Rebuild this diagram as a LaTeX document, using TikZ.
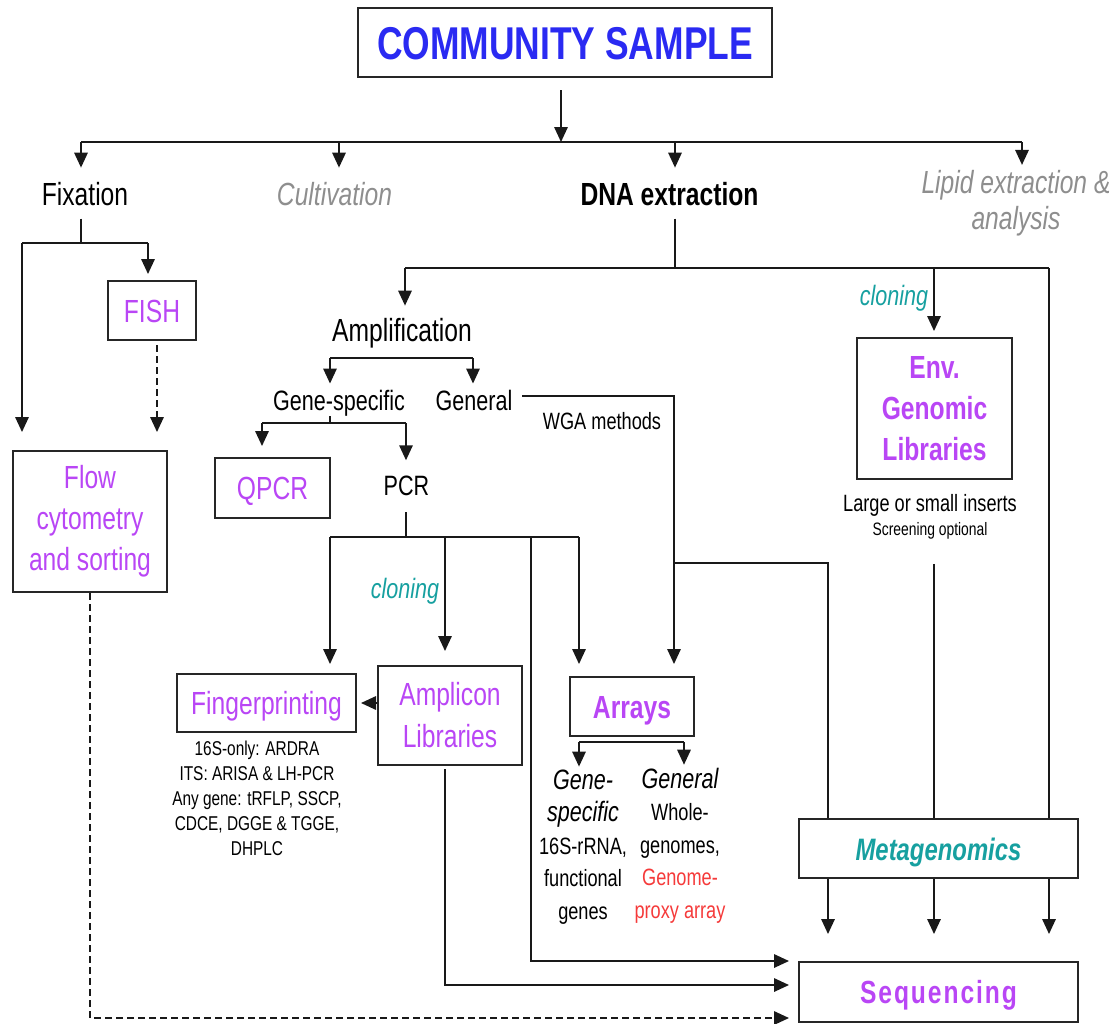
\documentclass[tikz,border=0pt]{standalone}
\usepackage{fontspec}
\setmainfont{Liberation Sans}[FakeStretch=0.77]
\usetikzlibrary{arrows.meta,calc}
\definecolor{cblue}{HTML}{2A2AF2}
\definecolor{cpurp}{HTML}{B946F5}
\definecolor{cteal}{HTML}{17A0A0}
\definecolor{cgray}{HTML}{8E8E8E}
\definecolor{cred}{HTML}{F53A3A}
\newcommand\FBig{\fontsize{32}{41}\selectfont}
\newcommand\FMid{\fontsize{28}{32.5}\selectfont}
\newcommand\FSub{\fontsize{23.6}{32.5}\selectfont}
\newcommand\FNote{\fontsize{20}{25}\selectfont}
\tikzset{
  ln/.style={line width=1.6pt, draw=black!90},
  arr/.style={ln, -{Triangle[length=15pt,width=13.5pt]}},
  dsh/.style={dash pattern=on 7pt off 4pt},
  box/.style={draw=black!85, line width=2pt, inner sep=0pt, align=center},
  sbox/.style={box, text height=23pt, text depth=0pt},
  lab/.style={inner sep=0pt, anchor=base},
  mlab/.style={inner sep=0pt, align=center},
}
\begin{document}
\begin{tikzpicture}[x=1pt,y=-1pt]
\useasboundingbox (0,0) rectangle (1119,1023);

% ---------- nodes ----------
\node[box, minimum width=414pt, minimum height=69pt, text height=33pt, text depth=0pt,
      text=cblue, font=\fontsize{46}{50}\selectfont\bfseries] (cs) at (565,42.5) {COMMUNITY SAMPLE};

\node[lab, font=\FBig] (fix) at (85,205) {Fixation};
\node[lab, font=\FBig\itshape, text=cgray] (cult) at (334.5,205) {Cultivation};
\node[lab, font=\FBig\bfseries] (dna) at (669.5,205) {DNA extraction};
\node[mlab, font=\fontsize{32}{36}\selectfont\itshape, text=cgray] (lipid) at (1016,203) {Lipid extraction \&\\analysis};

\node[sbox, minimum width=88pt, minimum height=59pt, text=cpurp, font=\FBig] (fish) at (152,310.5) {FISH};
\node[box, minimum width=154pt, minimum height=141pt, text=cpurp, font=\FBig] (flow) at (90,521.5) {Flow\\cytometry\\and sorting};

\node[lab, font=\FBig] (amp) at (402,341) {Amplification};
\node[lab, font=\FMid] (gs) at (339,410) {Gene-specific};
\node[lab, font=\FMid] (gen) at (474,410) {General};
\node[lab, font=\FSub] (wga) at (602,429) {WGA methods};
\node[sbox, minimum width=115pt, minimum height=60pt, text=cpurp, font=\FBig] (qpcr) at (272.5,488) {QPCR};
\node[lab, font=\FMid] (pcr) at (406.5,495) {PCR};
\node[lab, font=\FMid\itshape, text=cteal] (clon1) at (405,598) {cloning};

\node[lab, font=\FMid\itshape, text=cteal] (clon2) at (894,305) {cloning};
\node[box, minimum width=155pt, minimum height=141pt, text=cpurp, font=\FBig\bfseries] (env) at (934.5,408.5) {Env.\\Genomic\\Libraries};
\node[lab, font=\FSub] (lsi) at (930,511) {Large or small inserts};
\node[lab, font=\fontsize{18}{20}\selectfont] (scr) at (930,535) {Screening optional};

\node[sbox, minimum width=179pt, minimum height=58pt, text=cpurp, font=\FBig] (fp) at (266.5,703) {Fingerprinting};
\node[box, minimum width=144pt, minimum height=99pt, text=cpurp, font=\fontsize{32}{42}\selectfont] (ampl) at (450,715.5) {Amplicon\\Libraries};
\node[sbox, minimum width=124pt, minimum height=59pt, text=cpurp, font=\FBig\bfseries] (arrays) at (632,706.5) {Arrays};
\node[mlab, font=\FNote] (fpn) at (257,798) {16S-only: ARDRA\\ITS: ARISA \& LH-PCR\\Any gene: tRFLP, SSCP,\\CDCE, DGGE \& TGGE,\\DHPLC};
\node[mlab, font=\FSub] (ags) at (583,847) {{\FMid\itshape Gene-}\\{\FMid\itshape specific}\\16S-rRNA,\\functional\\genes};
\node[mlab, font=\FSub] (agen) at (680,845.5) {{\FMid\itshape General}\\Whole-\\genomes,\\\textcolor{cred}{Genome-}\\\textcolor{cred}{proxy array}};

\node[sbox, minimum width=279pt, minimum height=59pt, text=cteal, font=\fontsize{31}{36}\selectfont\bfseries\itshape] (meta) at (938.5,848.5) {Metagenomics};
\node[sbox, minimum width=279pt, minimum height=60pt, text=cpurp, font=\FBig\bfseries\addfontfeatures{LetterSpace=6}] (seq) at (938.5,992) {Sequencing};

% ---------- junction coordinates ----------
\coordinate (tA) at (561,142);
\coordinate (tL) at (81,142);
\coordinate (tC) at (339,142);
\coordinate (tD) at (675,142);
\coordinate (tR) at (1022,142);
\coordinate (fB) at (81,243);
\coordinate (fL) at (22,243);
\coordinate (fR) at (148,243);
\coordinate (fD) at (157,345);
\coordinate (qB) at (90,1018);
\coordinate (dB) at (675,268);
\coordinate (dL) at (405,268);
\coordinate (dE) at (934,268);
\coordinate (dR) at (1049,268);
\coordinate (aL) at (330,358);
\coordinate (aR) at (473,358);
\coordinate (gB) at (330,423);
\coordinate (gL) at (262,423);
\coordinate (gR) at (406,423);
\coordinate (wS) at (522,396);
\coordinate (wT) at (674,396);
\coordinate (wJ) at (674,563);
\coordinate (wM) at (828,563);
\coordinate (pB) at (406,537);
\coordinate (pL) at (330,537);
\coordinate (pA) at (445,537);
\coordinate (pS) at (531,537);
\coordinate (pR) at (579,537);
\coordinate (sA) at (531,961);
\coordinate (sB) at (445,985);
\coordinate (rL) at (579,742);
\coordinate (rR) at (684,742);

% ---------- connectors ----------
\draw[arr] ($(cs.south -| tA)+(0,12)$) -- (tA);
\draw[ln] (tL) -- (tR);
\draw[arr, shorten >=14pt] (tL) -- (tL |- fix.north);
\draw[arr, shorten >=14pt] (tC) -- (tC |- cult.north);
\draw[arr, shorten >=14pt] (tD) -- (tD |- dna.north);
\draw[arr, shorten >=5pt] (tR) -- (tR |- lipid.north);

% Fixation branch
\draw[ln, shorten <=13pt] (fB |- fix.south) -- (fB);
\draw[ln] (fL) -- (fR);
\draw[arr, shorten >=6pt] (fR) -- (fR |- fish.north);
\draw[arr, shorten >=18pt] (fL) -- (fL |- flow.north);
\draw[arr, dsh, shorten >=18pt] (fD) -- (fD |- flow.north);
\draw[arr, dsh, shorten >=9pt] (flow.south) -- (qB) -- (qB -| seq.west);

% DNA extraction branch
\draw[ln, shorten <=13pt] (dB |- dna.south) -- (dB);
\draw[ln] (dL) -- (dR);
\draw[arr, shorten >=12pt] (dL) -- (dL |- amp.north);
\draw[arr, shorten >=6pt] (dE) -- (dE |- env.north);
\draw[ln] (dR) -- (dR |- meta.north);
\draw[ln, shorten <=25pt] (dE |- scr.south) -- (dE |- meta.north);

% Amplification
\draw[ln] (aL) -- (aR);
\draw[arr, shorten >=6pt] (aL) -- (aL |- gs.north);
\draw[arr, shorten >=6pt] (aR) -- (aR |- gen.north);

% Gene-specific
\draw[ln] (gB |- gs.south) -- (gB);
\draw[ln] (gL) -- (gR);
\draw[arr, shorten >=11pt] (gL) -- (gL |- qpcr.north);
\draw[arr, shorten >=15pt] (gR) -- (gR |- pcr.north);

% General / WGA
\draw[arr, shorten >=12pt] (wS) -- (wT) -- (wT |- arrays.north);
\draw[ln] (wJ) -- (wM) -- (wM |- meta.north);

% PCR
\draw[ln, shorten <=17pt] (pB |- pcr.south) -- (pB);
\draw[ln] (pL) -- (pR);
\draw[arr, shorten >=9pt] (pL) -- (pL |- fp.north);
\draw[arr, shorten >=14pt] (pA) -- (pA |- ampl.north);
\draw[arr, shorten >=12pt] (pR) -- (pR |- arrays.north);
\draw[arr, shorten >=9pt] (pS) -- (sA) -- (sA -| seq.west);

% Amplicon libraries
\draw[arr, shorten >=4pt] (ampl.west |- fp.east) -- (fp.east);
\draw[arr, shorten <=3pt, shorten >=9pt] (sB |- ampl.south) -- (sB) -- (sB -| seq.west);

% Arrays
\draw[ln] (rL) -- (rR);
\draw[arr, shorten >=3pt] (rL) -- (rL |- ags.north);
\draw[arr, shorten >=3pt] (rR) -- (rR |- agen.north);

% Metagenomics to Sequencing
\draw[arr, shorten >=27pt] (wM |- meta.south) -- (wM |- seq.north);
\draw[arr, shorten >=27pt] (dE |- meta.south) -- (dE |- seq.north);
\draw[arr, shorten >=27pt] (dR |- meta.south) -- (dR |- seq.north);
\end{tikzpicture}
\end{document}
